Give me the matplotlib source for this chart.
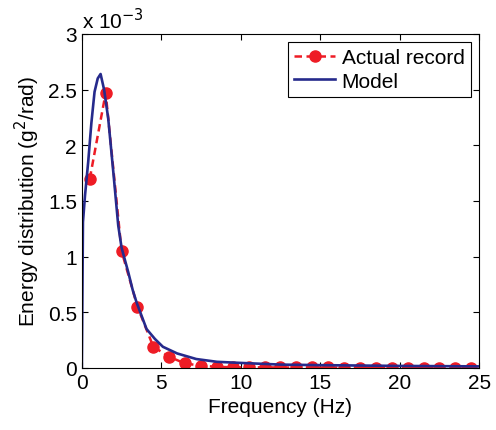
import numpy as np
import matplotlib.pyplot as plt
from matplotlib.ticker import FuncFormatter

plt.rcParams.update({
    "font.family": ["Liberation Sans", "DejaVu Sans"],
    "font.size": 15,
    "xtick.direction": "in",
    "ytick.direction": "in",
    "xtick.top": True,
    "ytick.right": True,
})

# measured record (x 1e-3 g^2/rad)
rec_freq = [0.5, 1.5, 2.5, 3.5, 4.5, 5.5, 6.5, 7.5, 8.5, 9.5, 10.5, 11.5, 12.5,
            13.5, 14.5, 15.5, 16.5, 17.5, 18.5, 19.5, 20.5, 21.5, 22.5, 23.5, 24.5]
rec_val = [1.70, 2.47, 1.05, 0.55, 0.19, 0.10, 0.04, 0.02, 0.01, 0.006, 0.005,
           0.005, 0.004, 0.004, 0.004, 0.004, 0.003, 0.003, 0.003, 0.003, 0.003,
           0.003, 0.003, 0.003, 0.003]

# model curve (x 1e-3 g^2/rad)
mod_freq = [0, 0.07, 0.2, 0.4, 0.6, 0.8, 1.0, 1.18, 1.4, 1.66, 2.0, 2.29, 2.5,
            2.92, 3.2, 3.44, 4.07, 4.6, 5.1, 6.0, 7.2, 8.5, 10, 12.5, 15, 20, 25]
mod_val = [0, 1.31, 1.55, 1.85, 2.2, 2.48, 2.6, 2.64, 2.5, 2.24, 1.73, 1.28, 1.08,
           0.86, 0.70, 0.59, 0.35, 0.26, 0.19, 0.13, 0.08, 0.055, 0.045, 0.03,
           0.025, 0.018, 0.014]

rec_val = np.array(rec_val) * 1e-3
mod_val = np.array(mod_val) * 1e-3

fig = plt.figure(figsize=(4.96, 4.31), dpi=100)
ax = fig.add_axes([0.165, 0.144, 0.801, 0.775])

ax.plot(rec_freq, rec_val, "--o", color="#ee1c25", lw=1.8, ms=8,
        dashes=(3, 1.8), label="Actual record")
ax.plot(mod_freq, mod_val, "-", color="#262a8c", lw=1.9, label="Model")

ax.set_xlim(0, 25)
ax.set_ylim(0, 3e-3)
ax.set_xticks([0, 5, 10, 15, 20, 25])
ax.set_yticks(np.arange(0, 3.01e-3, 0.5e-3))
ax.yaxis.set_major_formatter(FuncFormatter(lambda v, p: "%g" % round(v * 1e3, 3)))
ax.tick_params(length=4, width=0.8, labelsize=15)
ax.text(0.0, 1.005, "x 10$^{-3}$", transform=ax.transAxes, fontsize=15,
        ha="left", va="bottom")

ax.set_xlabel("Frequency (Hz)", fontsize=15)
ax.set_ylabel("Energy distribution (g$^2$/rad)", fontsize=15)

leg = ax.legend(loc="upper right", fancybox=False, framealpha=1,
                edgecolor="black", handlelength=2.0, handletextpad=0.3,
                borderpad=0.3, labelspacing=0.2, borderaxespad=0.4)
leg.get_frame().set_linewidth(0.8)

fig.savefig("out.png", dpi=100)
